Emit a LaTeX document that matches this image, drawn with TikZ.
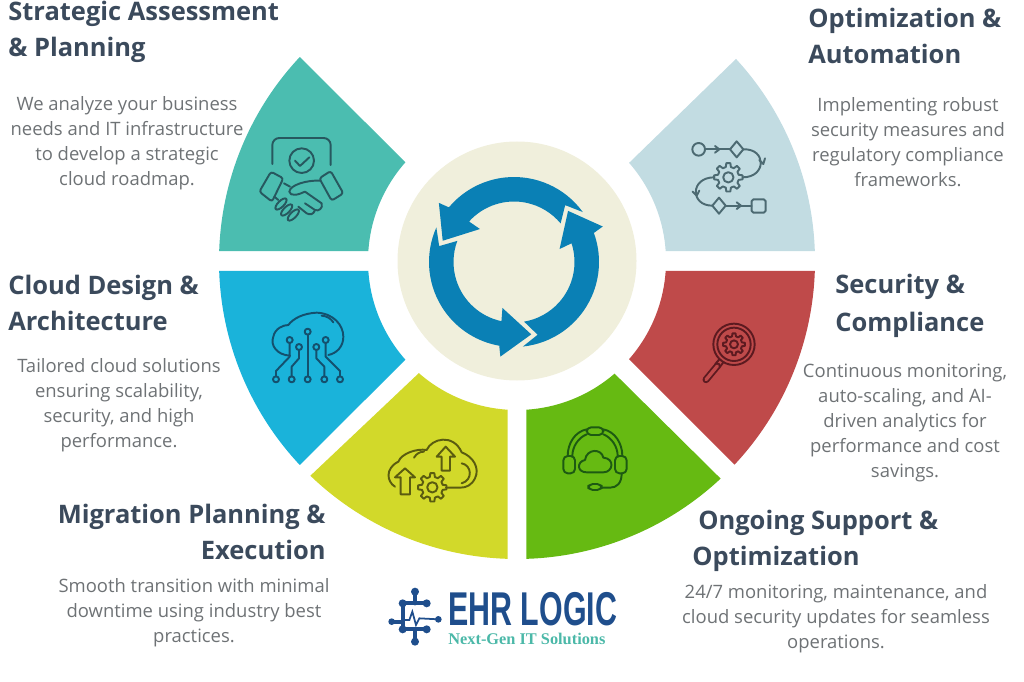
\documentclass[tikz,border=0pt]{standalone}
\usepackage{fontspec}
\setmainfont{Open Sans}
\newfontfamily\logofont[FakeStretch=0.64]{Liberation Sans Bold}
\newfontfamily\tagfont{Liberation Serif Bold}
\usepackage{xcolor}
\usetikzlibrary{positioning,calc}
\definecolor{headcol}{HTML}{3B4A5C}
\definecolor{bodycol}{HTML}{6E7275}
\definecolor{tealseg}{HTML}{4BBDB0}
\definecolor{paleseg}{HTML}{C2DCE2}
\definecolor{cyanseg}{HTML}{1AB3DA}
\definecolor{redseg}{HTML}{BF4A4A}
\definecolor{limeseg}{HTML}{D2D92A}
\definecolor{greenseg}{HTML}{66BA12}
\definecolor{hubcol}{HTML}{F0EFDC}
\definecolor{ringcol}{HTML}{0A80B5}
\definecolor{logocol}{HTML}{1F4E8C}
\definecolor{tagcol}{HTML}{4BB8A8}
\definecolor{tealink}{HTML}{27585F}
\definecolor{paleink}{HTML}{4C6A72}
\definecolor{cyanink}{HTML}{14506E}
\definecolor{limeink}{HTML}{5A5C10}
\definecolor{greenink}{HTML}{1D5A12}
\definecolor{redink}{HTML}{5C1A20}
% outer start, outer end, inner start, inner end
\newcommand{\sector}[5]{\fill[#1] (#2:298) arc[start angle=#2,end angle=#3,radius=298] -- (#5:149) arc[start angle=#5,end angle=#4,radius=149] -- cycle;}
\newcommand{\gearicon}[3]{\begin{scope}[shift={(#1,#2)}]
  \draw[line join=round] ({-14}:{.74*#3}) foreach \a in {0,45,...,315} { -- ({\a-14}:{.74*#3}) -- ({\a-8}:#3) -- ({\a+8}:#3) -- ({\a+14}:{.74*#3})} -- cycle;
  \draw (0,0) circle[radius={.36*#3}];
\end{scope}}
\begin{document}
\begin{tikzpicture}[
    x=0.02cm, y=-0.02cm,
    heading/.style={font=\fontsize{14.5}{20.3}\selectfont\bfseries, text=headcol, inner sep=0pt},
    blurb/.style={font=\fontsize{10.5}{14.3}\selectfont, text=bodycol, inner sep=0pt, align=center},
    icon/.style={line width=1.1pt, line cap=round, line join=round},
    zoomleft/.style={shift={(210,50)}, scale=1/3},
    zoomright/.style={shift={(620,50)}, scale=1/3},
    zoomlow/.style={shift={(210,265)}, scale=1/3},
    zoomred/.style={shift={(520,265)}, scale=1/3},
    zoomlogo/.style={shift={(380,570)}, scale=1/3}
]
    \useasboundingbox (0,0) rectangle (1024,682);
    \begin{scope}[shift={(517,261)}, yscale=-1]
        \sector{tealseg}{178.1}{136.8}{176.2}{138.5}
        \sector{cyanseg}{181.9}{223.2}{183.8}{221.5}
        \sector{limeseg}{226.1}{268.2}{228.8}{266.4}
        \sector{greenseg}{271.8}{313.1}{273.6}{310.9}
        \sector{redseg}{316.9}{358.1}{318.8}{356.2}
        \sector{paleseg}{1.9}{42.7}{3.8}{41.2}
        \fill[hubcol] (0,0) circle[radius=119.5];
    \end{scope}
    \begin{scope}[shift={(514,262)}, yscale=-1]
        \foreach \r in {0,120,240}
            \fill[ringcol] ({36+\r}:85) arc[start angle={36+\r},end angle={140+\r},radius=85]
                -- ({141.8+\r}:95.6) -- ({163.4+\r}:74.4) -- ({135.9+\r}:47.4) -- ({138+\r}:60.5)
                arc[start angle={138+\r},end angle={39.6+\r},radius=60.5]
                -- ({48+\r}:76.5) -- cycle;
    \end{scope}

    \begin{scope}[zoomleft, icon, draw=tealink]
        \draw[rounded corners=4pt] (187,342) -- (187,264) -- (362,264) -- (362,345);
        \draw (275,332) circle[radius=37];
        \draw (255,332) -- (270,348) -- (298,322);
        \draw[rounded corners=1.5pt] (183,365) -- (220,385) -- (186,455) -- (148,425) -- cycle;
        \draw[rounded corners=1.5pt] (362,363) -- (400,430) -- (365,452) -- (328,385) -- cycle;
        \draw (222,400) -- (240,410);
        \draw (330,392) .. controls (290,390) and (240,405) .. (238,425) .. controls (240,440) and (265,435) .. (285,425) -- (335,460) .. controls (340,475) and (325,485) .. (315,480) -- (285,460);
        \draw (315,480) .. controls (310,495) and (300,495) .. (290,490) -- (265,470);
        \draw (193,440) -- (205,450);
        \foreach \p in {(213,462),(230,480),(250,495)}
            \draw[shift={\p},rotate=45] (0,0) ellipse[x radius=22,y radius=9];
    \end{scope}

    \begin{scope}[zoomright, icon, draw=paleink]
        \draw (236,298) circle[radius=19];
        \draw (255,298) -- (330,298);
        \draw (285,288) -- (298,298) -- (285,308);
        \draw (350,274) -- (370,298) -- (350,322) -- (330,298) -- cycle;
        \draw (370,298) .. controls (440,295) and (440,382) .. (368,382);
        \draw (418,330) -- (430,342) -- (435,325);
        \gearicon{325}{382}{43}
        \draw (283,382) .. controls (210,382) and (210,467) .. (277,467);
        \draw (218,425) -- (230,437) -- (238,422);
        \draw (297,443) -- (317,467) -- (297,491) -- (277,467) -- cycle;
        \draw (317,467) -- (395,467);
        \draw (350,457) -- (363,467) -- (350,477);
        \draw[rounded corners=1pt] (395,448) rectangle (437,488);
    \end{scope}

    \begin{scope}[zoomlow, icon, draw=cyanink]
        \draw (240,272) .. controls (200,270) and (180,240) .. (190,215) .. controls (195,190) and (220,180) .. (235,180) .. controls (250,160) and (280,145) .. (320,143) .. controls (370,145) and (400,180) .. (400,215) .. controls (400,245) and (380,265) .. (355,270);
        \draw (335,152) .. controls (350,153) and (362,160) .. (370,172);
        \draw (293,209) -- (293,334);
        \draw (293,200) circle[radius=9] (293,343) circle[radius=9];
        \draw (239,234) -- (239,275) -- (198,318) -- (198,334);
        \draw (239,225) circle[radius=9] (198,343) circle[radius=9];
        \draw (267,255) -- (267,280) -- (245,305) -- (245,334);
        \draw (267,246) circle[radius=9] (245,343) circle[radius=9];
        \draw (319,255) -- (319,280) -- (343,305) -- (343,334);
        \draw (319,246) circle[radius=9] (343,343) circle[radius=9];
        \draw (347,234) -- (347,275) -- (390,318) -- (390,334);
        \draw (347,225) circle[radius=9] (390,343) circle[radius=9];
    \end{scope}

    \begin{scope}[zoomlow, icon, draw=limeink]
        \draw (555,665) .. controls (530,650) and (525,610) .. (565,590) .. controls (575,565) and (620,550) .. (650,555) .. controls (665,520) and (730,505) .. (755,562) .. controls (790,575) and (810,610) .. (795,640) .. controls (785,660) and (770,668) .. (750,668) -- (708,668);
        \draw (612,578) .. controls (620,565) and (630,560) .. (642,560);
        \draw (755,595) .. controls (785,600) and (790,645) .. (755,655);
        \draw (572,688) -- (572,637) -- (555,637) -- (585,610) -- (615,637) -- (600,637) -- (600,688) -- cycle;
        \draw (695,617) -- (695,575) -- (680,575) -- (707,545) -- (735,575) -- (720,575) -- (720,617) -- cycle;
        \gearicon{667}{667}{43}
    \end{scope}

    \begin{scope}[zoomred, icon, draw=greenink]
        \draw[rounded corners=2.5pt] (130,573) rectangle (165,625);
        \draw[rounded corners=2.5pt] (285,573) rectangle (320,625);
        \draw[rounded corners=2.5pt] (200,487) rectangle (250,510);
        \draw (143,573) .. controls (143,535) and (165,500) .. (200,493);
        \draw (250,493) .. controls (285,500) and (307,535) .. (307,573);
        \draw (157,573) .. controls (157,545) and (175,518) .. (200,508);
        \draw (250,508) .. controls (275,518) and (293,545) .. (293,573);
        \draw (305,625) .. controls (305,655) and (290,668) .. (270,668) -- (245,668);
        \draw[rounded corners=2.5pt] (205,657) rectangle (245,675);
        \draw (200,622) .. controls (170,622) and (170,590) .. (195,585) .. controls (200,550) and (245,550) .. (250,578) .. controls (285,580) and (280,622) .. (250,622) -- cycle;
    \end{scope}

    \begin{scope}[zoomred, icon, draw=redink]
        \draw (642,238) circle[radius=62];
        \draw (642,238) circle[radius=50];
        \gearicon{642}{238}{33}
        \draw (598,283) -- (586,297) (610,292) -- (598,308);
        \draw[line width=4pt] (592,303) -- (558,344);
        \draw[line width=1.9pt, redseg] (592,303) -- (558,344);
    \end{scope}

    \node[heading, anchor=west, align=left] (assess) at (8,32) {Strategic Assessment\\\& Planning};
    \node[blurb] (assesstxt) at (127,143) {We analyze your business\\needs and IT infrastructure\\to develop a strategic\\cloud roadmap.};
    \node[heading, anchor=west, align=left] (optim) at (808,36) {Optimization \&\\Automation};
    \node[blurb] (optimtxt) at (908,142) {Implementing robust\\security measures and\\regulatory compliance\\frameworks.};
    \node[heading, anchor=west, align=left] (design) at (8,303) {Cloud Design \&\\Architecture};
    \node[blurb] (designtxt) at (119,405) {Tailored cloud solutions\\ensuring scalability,\\security, and high\\performance.};
    \node[heading, anchor=west, align=left] (secure) at (835,306) {Security \&\\[1.2pt]Compliance};
    \node[blurb] (securetxt) at (905,423) {Continuous monitoring,\\auto-scaling, and AI-\\driven analytics for\\performance and cost\\savings.};
    \node[heading, anchor=east, align=right] (migrate) at (326,532) {Migration Planning \&\\Execution};
    \node[blurb] (migratetxt) at (194,613) {Smooth transition with minimal\\downtime using industry best\\practices.};
    \node[heading, anchor=west, align=left] (support) at (692,541) {\hspace*{3.4pt}Ongoing Support \&\\Optimization};
    \node[blurb] (supporttxt) at (836,619) {24/7 monitoring, maintenance, and\\cloud security updates for seamless\\operations.};

    \begin{scope}[zoomlogo, logocol, line cap=round]
        \foreach \p/\q in {105/65, 105/215, 68/100, 140/100, 68/178, 140/178}
            \fill (\p,\q) circle[radius=12];
        \fill (35,155) circle[radius=10] (175,148) circle[radius=10];
        \draw[line width=2.4pt] (140,100) -- (68,100) -- (68,178) -- (140,178);
        \draw[line width=2.4pt] (105,65) -- (105,100) (105,178) -- (105,215) (35,155) -- (68,155);
        \draw[line width=1pt] (75,150) -- (88,150) -- (97,125) -- (108,165) -- (118,145) -- (175,148);
    \end{scope}
    \node[anchor=west, inner sep=0pt, text=logocol, font=\logofont\fontsize{27}{27}\selectfont] (logoname) at (448,609) {EHR LOGIC};
    \node[anchor=west, inner sep=0pt, text=tagcol, font=\tagfont\fontsize{9.3}{12}\selectfont] (logotag) at (448,639) {Next-Gen IT Solutions};
\end{tikzpicture}
\end{document}
